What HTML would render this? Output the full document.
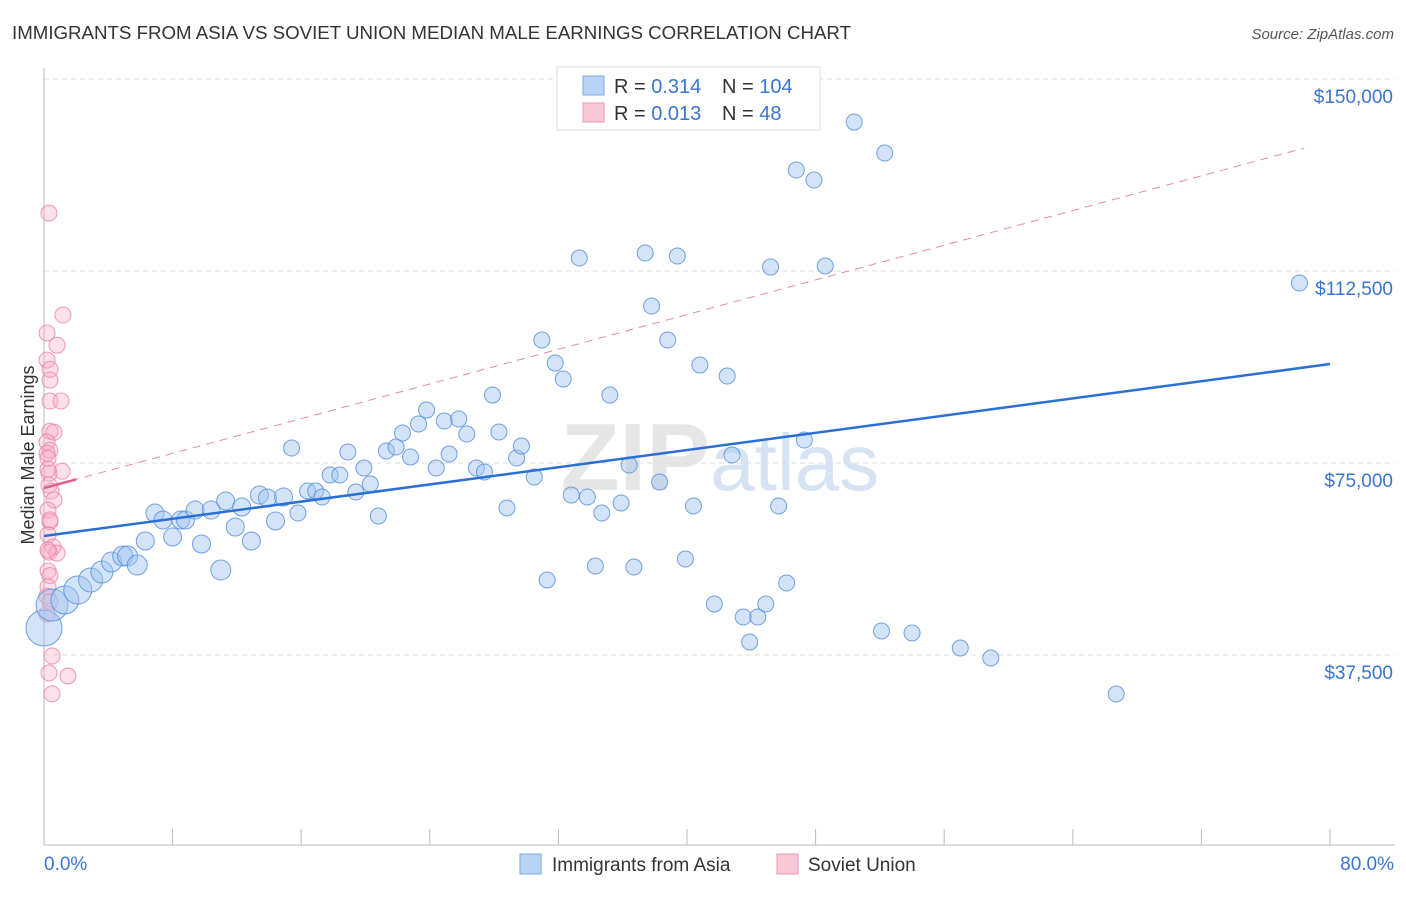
<!DOCTYPE html>
<html><head><meta charset="utf-8"><style>
body{margin:0;background:#fff;font-family:"Liberation Sans",sans-serif}
svg text{font-family:"Liberation Sans",sans-serif}
</style></head><body>
<svg id="chart" width="1406" height="892">
<text x="12" y="39" font-size="18.7" fill="#333">IMMIGRANTS FROM ASIA VS SOVIET UNION MEDIAN MALE EARNINGS CORRELATION CHART</text>
<text x="1394" y="39" font-size="15" fill="#555" text-anchor="end" font-style="italic">Source: ZipAtlas.com</text>
<text x="0" y="0" transform="translate(34,455) rotate(-90)" font-size="18" fill="#333" text-anchor="middle">Median Male Earnings</text>
<text x="720" y="490" font-size="96" fill="#e6e6e6" text-anchor="middle" font-weight="bold">ZIP<tspan fill="#d5e3f3" font-weight="normal" font-size="80">atlas</tspan></text>
<g id="grid"></g><g id="axes"></g><g id="pinkPts"></g><g id="bluePts"></g><g id="lines"></g>
<g>
<rect x="557" y="67" width="263" height="63" fill="#fff" stroke="#ddd"/>
<rect x="583" y="76" width="21" height="19" fill="#b9d3f5" stroke="#7aaae8"/>
<rect x="583" y="103" width="21" height="19" fill="#f9c9d7" stroke="#ef98b3"/>
<text x="614" y="93" font-size="20" fill="#333">R = <tspan fill="#3a75d4">0.314</tspan></text>
<text x="722" y="93" font-size="20" fill="#333">N = <tspan fill="#3a75d4">104</tspan></text>
<text x="614" y="120" font-size="20" fill="#333">R = <tspan fill="#3a75d4">0.013</tspan></text>
<text x="722" y="120" font-size="20" fill="#333">N = <tspan fill="#3a75d4">  48</tspan></text>
</g>
<g>
<rect x="520" y="854" width="21" height="20" fill="#b9d3f5" stroke="#7aaae8"/>
<text x="552" y="871" font-size="19" fill="#333">Immigrants from Asia</text>
<rect x="777" y="854" width="21" height="20" fill="#f9c9d7" stroke="#ef98b3"/>
<text x="808" y="871" font-size="19" fill="#333">Soviet Union</text>
</g>
</svg>
<script>
const yTicks=[37500,75000,112500,150000];
const yTickLabels=["$37,500","$75,000","$112,500","$150,000"];
const xTickCount=10;
const xLabels=["0.0%","80.0%"];
const blueX=[0,0.5,1.3,2.1,2.9,3.6,4.2,4.9,5.2,5.8,6.3,6.9,7.4,8.0,8.5,8.8,9.4,9.8,10.4,11.0,11.3,11.9,12.3,12.9,13.4,13.9,14.4,14.9,15.4,15.8,16.4,16.9,17.3,17.8,18.4,18.9,19.4,19.9,20.3,20.8,21.3,21.9,22.3,22.8,23.3,23.8,24.4,24.9,25.2,25.8,26.3,26.9,27.4,27.9,28.3,28.8,29.4,29.7,30.5,30.97,31.3,31.8,32.3,32.8,33.3,33.8,34.3,34.7,35.2,35.9,36.4,36.7,37.4,37.8,38.3,38.8,39.4,39.9,40.4,40.8,41.7,42.5,42.8,43.5,43.9,44.4,44.9,45.2,45.7,46.2,46.8,47.3,47.9,48.6,50.4,52.1,52.3,54.0,57.0,58.9,66.7,78.1];
const blueY=[42770,47260,48240,50190,52150,53700,55660,56830,56830,55070,59760,65230,63860,60540,63860,63860,65810,59170,65810,54100,67570,62490,66400,59760,68740,68160,63670,68350,77920,65230,69530,69530,68350,72650,72650,77140,69330,74020,70890,64640,77340,78120,80850,76170,82610,85340,74020,83200,76750,83590,80660,74020,73240,88270,81050,66210,75970,78310,72260,99020,52150,94520,91400,68740,115030,68350,54880,65230,88270,67180,74600,54680,116010,105660,71280,99020,115420,56240,66600,94130,47460,91990,76560,44920,40040,44920,47460,113270,66600,51560,132220,79490,130270,113470,141590,42180,135540,41790,38860,36910,29880,110150];
const blueSize=[18,16,14,14,12,11,10,10,10,10,9,9,9,9,9,9,9,9,9,10,9,9,9,9,9,9,9,9,8];
const pinkX=[0.31,1.18,0.19,0.81,0.19,0.37,0.37,0.37,1.06,0.37,0.62,0.19,0.37,0.19,1.12,0.31,0.31,0.44,0.62,0.25,0.37,0.25,0.56,0.31,0.81,0.25,0.37,0.25,0.19,0.37,0.19,0.5,0.31,1.49,0.5,0.25,0.25,0.25,0.37];
const pinkY=[123800,103900,100400,98000,95100,93300,91200,87100,87100,81200,81000,79100,77500,76900,73400,73000,70700,69500,67800,65800,63500,61000,58600,57600,57400,53900,53000,50800,49000,47900,45500,37300,34000,33400,29900,75900,58000,73800,63900];
const xScale=p=>44+p/80*1286;
const yScale=v=>847-v/37500*192;
const NS="http://www.w3.org/2000/svg";
function mk(parent,tag,attrs){const e=document.createElementNS(NS,tag);for(const k in attrs)e.setAttribute(k,attrs[k]);document.getElementById(parent).appendChild(e);return e;}
yTicks.forEach((v,i)=>{
 const l=mk('grid','line',{x1:44,x2:1395,y1:yScale(v),y2:yScale(v),stroke:'#ddd','stroke-dasharray':'5,4'});
 
 
 const t=mk('axes','text',{x:1393,y:yScale(v)+24,'font-size':19,fill:'#3a75d4','text-anchor':'end'});
 t.textContent=yTickLabels[i];
 
 
});
let ax=mk('axes','line',{x1:44,x2:1395,y1:845,y2:845,stroke:'#bbb'});


let ay=mk('axes','line',{x1:44,x2:44,y1:68,y2:845,stroke:'#bbb'});


for(let i=0;i<=xTickCount;i++){const x=xScale(i*8);const t=mk('axes','line',{x1:x,x2:x,y1:829,y2:845,stroke:'#bbb'});
 
 }
[[0,'start',44],[1,'end',1394]].forEach(([i,a,x])=>{const t=mk('axes','text',{x:x,y:870,'font-size':19,fill:'#3a75d4','text-anchor':a});t.textContent=xLabels[i];
 
 });
pinkX.forEach((p,i)=>{const c=mk('pinkPts','circle',{cx:xScale(p),cy:yScale(pinkY[i]),r:8,fill:'rgba(247,170,195,0.35)',stroke:'rgba(236,130,163,0.8)'});
 
 });
blueX.forEach((p,i)=>{const c=mk('bluePts','circle',{cx:xScale(p),cy:yScale(blueY[i]),r:blueSize[i]||8,fill:'rgba(160,196,240,0.45)',stroke:'rgba(80,140,220,0.8)'});
 
 });
const blueTrend=[60740,94330];
const pinkTrend=[70110,136510];
let bl=mk('lines','line',{x1:xScale(0),y1:yScale(blueTrend[0]),x2:xScale(80),y2:yScale(blueTrend[1]),stroke:'#2a6fd6','stroke-width':2.5});


let pl=mk('lines','line',{x1:xScale(0),y1:yScale(pinkTrend[0]),x2:xScale(78.4),y2:yScale(pinkTrend[1]),stroke:'#e88aa8','stroke-width':1,'stroke-dasharray':'8,6'});


let ps=mk('lines','line',{x1:xScale(0),y1:yScale(pinkTrend[0]),x2:xScale(2),y2:yScale(pinkTrend[0]+(pinkTrend[1]-pinkTrend[0])*2/78.4),stroke:'#e0608a','stroke-width':2.5});


</script>
</body></html>
